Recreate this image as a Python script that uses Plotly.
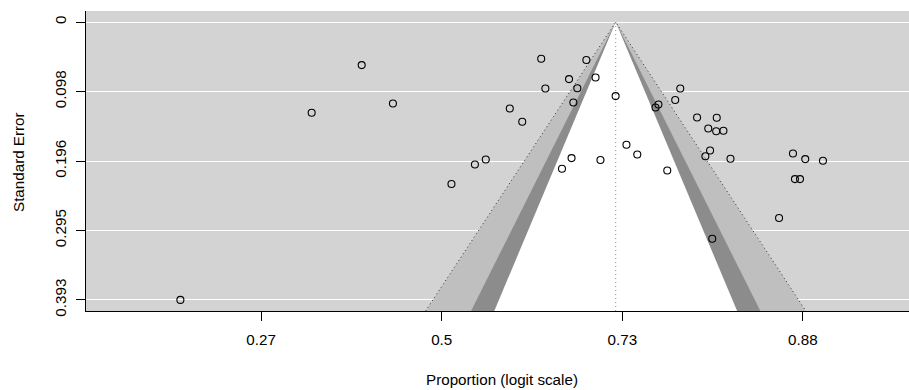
import plotly.graph_objects as go

# Study estimates (logit proportions) and standard errors
yi = [-0.443, -0.720, -0.270, 0.054, -1.447, 0.551, 0.801, 0.705, 0.852, 0.574,
      0.751, 0.729, 0.963, 0.377, 0.446, 1.321, 1.293, 1.200, 1.184, 1.414,
      1.523, 1.476, 1.520, 1.560, 1.486, 1.460, 1.599, 1.023, 1.083, 0.719,
      0.666, 0.879, 1.249, 0.244, 0.184, 1.945, 2.013, 2.111, 1.956, 1.984,
      1.868, 1.498]
sei = [0.0608, 0.1283, 0.1151, 0.2291, 0.3930, 0.0519, 0.0537, 0.0806, 0.0784, 0.0939,
       0.0936, 0.1137, 0.1047, 0.1222, 0.1410, 0.0939, 0.1103, 0.1165, 0.1208, 0.1349,
       0.1354, 0.1506, 0.1545, 0.1537, 0.1816, 0.1898, 0.1934, 0.1736, 0.1873, 0.1924,
       0.2075, 0.1950, 0.2099, 0.1943, 0.2014, 0.1859, 0.1938, 0.1962, 0.2221, 0.2221,
       0.2772, 0.3065]

theta = 0.9635          # pooled estimate (logit)
se_max = 0.393
levels_z = [2.5758, 1.9600, 1.6449]   # 99%, 95%, 90%
level_fill = ["#BFBFBF", "#8C8C8C", "#FFFFFF"]

x_ticks = [-1, 0, 1, 2]
x_ticklabels = ["0.27", "0.5", "0.73", "0.88"]
y_ticks = [0, se_max / 4, se_max / 2, 3 * se_max / 4, se_max]
y_ticklabels = ["0", "0.098", "0.196", "0.295", "0.393"]

ext = 0.04 * se_max
y_range = [se_max + ext, -ext]
x_range = [-1.9696, 2.5875]
se_bot = se_max + ext

FONT = "Liberation Sans, Arial, Helvetica, sans-serif"
FS = 15.2

fig = go.Figure()

for z, col in zip(levels_z, level_fill):
    fig.add_trace(go.Scatter(
        x=[theta - z * se_bot, theta, theta + z * se_bot, theta - z * se_bot],
        y=[se_bot, 0, se_bot, se_bot],
        mode="lines", fill="toself", fillcolor=col,
        line=dict(width=0, color=col), hoverinfo="skip", showlegend=False))

# dotted outer contour lines
z_out = levels_z[0]
fig.add_trace(go.Scatter(
    x=[theta - z_out * se_bot, theta, theta + z_out * se_bot],
    y=[se_bot, 0, se_bot],
    mode="lines", line=dict(color="#333333", width=1, dash="1px,3px"),
    hoverinfo="skip", showlegend=False))

# reference line at the estimate
fig.add_trace(go.Scatter(
    x=[theta, theta], y=[0, se_bot],
    mode="lines", line=dict(color="#8a8a8a", width=1, dash="1px,3px"),
    hoverinfo="skip", showlegend=False))

fig.add_trace(go.Scatter(
    x=yi, y=sei, mode="markers",
    marker=dict(symbol="circle-open", size=7, color="black",
                line=dict(width=1.1, color="black")),
    showlegend=False, cliponaxis=False))

fig.update_layout(
    width=909, height=390,
    margin=dict(l=86, r=0, t=11, b=79),
    paper_bgcolor="white", plot_bgcolor="#D3D3D3",
    font=dict(family=FONT, size=FS, color="black"),
    showlegend=False,
)

fig.update_xaxes(
    range=x_range, tickmode="array", tickvals=x_ticks, ticktext=x_ticklabels,
    showgrid=False, zeroline=False, showline=True, linecolor="black", linewidth=1,
    ticks="outside", ticklen=9, tickwidth=1, tickcolor="black",
    ticklabelstandoff=6,
    tickfont=dict(family=FONT, size=FS, color="black"),
)
fig.update_yaxes(
    range=y_range, tickmode="array", tickvals=y_ticks, ticktext=y_ticklabels,
    showgrid=True, gridcolor="white", gridwidth=1, zeroline=False,
    showline=True, linecolor="black", linewidth=1,
    ticks="outside", ticklen=9, tickwidth=1, tickcolor="black",
    tickangle=-90, ticklabelstandoff=4,
    tickfont=dict(family=FONT, size=FS, color="black"),
)

fig.add_annotation(text="Proportion (logit scale)", xref="paper", yref="paper",
                   x=(501.5 - 86) / (909 - 86), y=-(379 - 311) / 300,
                   xanchor="center", yanchor="middle", showarrow=False,
                   font=dict(family=FONT, size=FS, color="black"))
fig.add_annotation(text="Standard Error", xref="paper", yref="paper",
                   x=-(86 - 18.3) / (909 - 86), y=(311 - 161.7) / 300,
                   xanchor="center", yanchor="middle", showarrow=False, textangle=-90,
                   font=dict(family=FONT, size=FS, color="black"))

fig.write_html("out.html")
